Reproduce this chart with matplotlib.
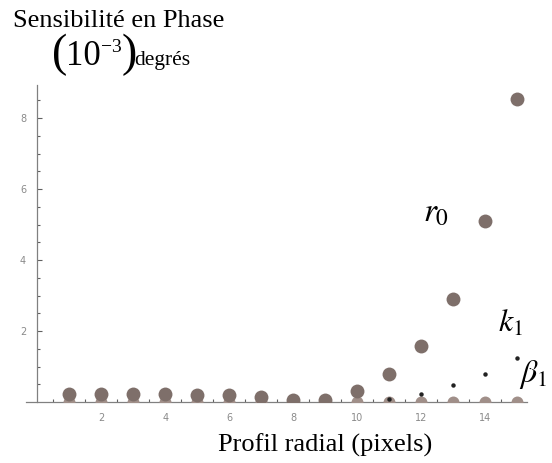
"""Sensibilité en phase vs profil radial."""

import matplotlib
matplotlib.use("Agg")
import matplotlib.pyplot as plt

plt.rcParams["font.family"] = ["Liberation Serif", "DejaVu Serif"]
plt.rcParams["mathtext.fontset"] = "stix"

NAN = float("nan")

# données
rayon = list(range(1, 16))
r0 = [0.23, 0.23, 0.23, 0.23, 0.20, 0.20, 0.13, 0.07, 0.06, 0.30,
      0.79, 1.58, 2.90, 5.10, 8.54]
beta1 = [NAN, NAN, NAN, NAN, NAN, NAN, NAN, NAN, NAN, NAN,
         0.08, 0.23, 0.48, 0.79, 1.24]
k1 = [0.0] * 15

W, H = 552, 463


def fx(px):
    return px / W


def fy(py):
    return 1 - py / H


fig = plt.figure(figsize=(W / 100, H / 100), dpi=100)
ax = fig.add_axes([0.0471, 0.1317, 0.9076, 0.6847])

ax.plot(rayon, k1, "o", color="#a08f89", markersize=8.6, markeredgewidth=0, zorder=3)
ax.plot(rayon, r0, "o", color="#7e6f6a", markersize=10, markeredgewidth=0, zorder=4)
ax.plot(rayon, beta1, "o", color="#222222", markersize=3.2, markeredgewidth=0, zorder=5)

ax.set_xlim(-0.35, 15.3)
ax.set_ylim(0, 8.93)

for s in ("top", "right"):
    ax.spines[s].set_visible(False)
ax.spines["left"].set_position(("data", 0))
ax.spines["bottom"].set_position(("data", 0))
for s in ("left", "bottom"):
    ax.spines[s].set_color("#808080")
    ax.spines[s].set_linewidth(0.9)
    ax.spines[s].set_zorder(2)

ax.set_xticks([2, 4, 6, 8, 10, 12, 14])
ax.set_xticks([x * 0.5 for x in range(1, 31)], minor=True)
ax.set_yticks([2, 4, 6, 8])
ax.set_yticks([y * 0.5 for y in range(1, 18)], minor=True)
ax.tick_params(which="both", direction="in", color="#606060", width=0.8,
               labelsize=7, labelcolor="#8a8a8a")
ax.tick_params(which="major", length=3.5)
ax.tick_params(which="minor", length=2.5)
ax.tick_params(axis="x", pad=8)
ax.tick_params(axis="y", pad=8)
for lab in ax.get_xticklabels() + ax.get_yticklabels():
    lab.set_family("DejaVu Sans")

# titre de l'axe vertical, sur deux lignes
fig.text(fx(13), fy(27), "Sensibilité en Phase", fontsize=19, ha="left", va="baseline")
fig.text(fx(60), fy(55), "(", fontsize=33, ha="center", va="center")
fig.text(fx(66), fy(65), "10", fontsize=25, ha="left", va="baseline")
fig.text(fx(101), fy(52), "\u22123", fontsize=14, ha="left", va="baseline")
fig.text(fx(129), fy(55), ")", fontsize=33, ha="center", va="center")
fig.text(fx(134), fy(65), "degrés", fontsize=15.5, ha="left", va="baseline")

fig.text(fx(325.5), fy(452), "Profil radial (pixels)", fontsize=19,
         ha="center", va="baseline")

fig.text(fx(423), fy(221), r"$r_0$", fontsize=24, ha="left", va="baseline")
fig.text(fx(498), fy(332), r"$k_1$", fontsize=23, ha="left", va="baseline")
fig.text(fx(519), fy(382), r"$\beta_1$", fontsize=23, ha="left", va="baseline")

fig.savefig("out.png", dpi=100)
